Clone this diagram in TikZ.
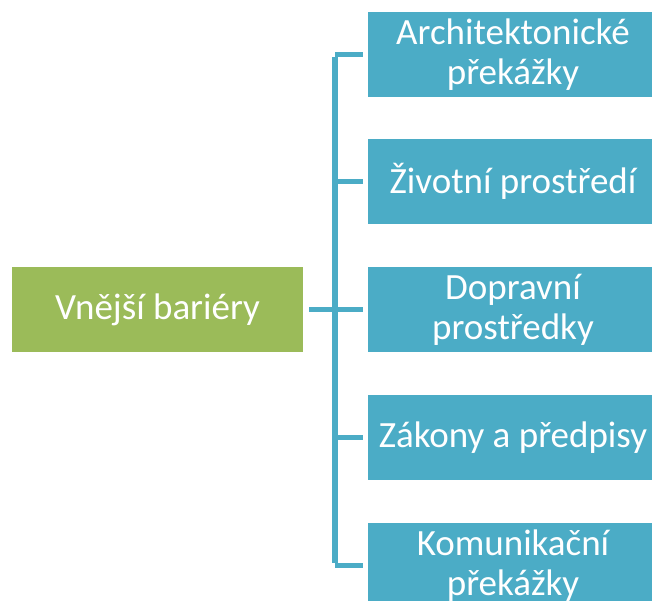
\documentclass[tikz,border=0pt]{standalone}
\usepackage{fontspec}
\setmainfont{Carlito}
\definecolor{grn}{HTML}{9BBB59}
\definecolor{blu}{HTML}{4BACC6}
\begin{document}
\begin{tikzpicture}[x=1pt,y=-1pt,
  box/.style={rectangle, inner sep=0pt, text=white, align=center,
    font=\fontsize{37}{40}\selectfont},
  rootbox/.style={box, fill=grn, minimum width=291pt, minimum height=85pt},
  leafbox/.style={box, fill=blu, minimum width=290pt, minimum height=85pt},
  conn/.style={draw=blu, line width=5.5pt}]
\useasboundingbox (0,0) rectangle (652,601);
\node[rootbox] (g) at (157.5,309.5) {Vnější bariéry};
\node[leafbox] (b1) at (513,54.5) {Architektonické\\překážky};
\node[leafbox] (b2) at (513,181.5) {Životní prostředí};
\node[leafbox] (b3) at (513,309.5) {Dopravní\\prostředky};
\node[leafbox] (b4) at (513,437.5) {Zákony a předpisy};
\node[leafbox] (b5) at (513,565.5) {Komunikační\\překážky};
\coordinate (t1) at (335,54.5);
\coordinate (t2) at (335,181.5);
\coordinate (t3) at (335,309.5);
\coordinate (t4) at (335,437.5);
\coordinate (t5) at (335,565.5);
\draw[conn] ([yshift=-2.75pt]t1) -- ([yshift=2.75pt]t5);
\draw[conn, shorten <=6pt] (g) -- (t3);
\foreach \i in {1,...,5} {
  \draw[conn, shorten >=5pt] (t\i) -- (b\i);
}
\end{tikzpicture}
\end{document}
